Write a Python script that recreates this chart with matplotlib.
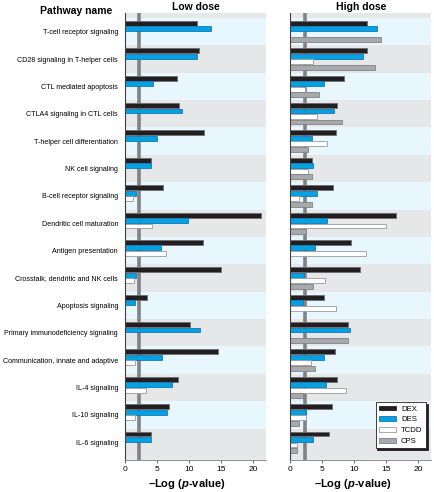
import numpy as np
import matplotlib
matplotlib.use("Agg")
import matplotlib.pyplot as plt
from matplotlib.patches import Patch

plt.rcParams['font.family'] = ['Liberation Sans', 'DejaVu Sans']
plt.rcParams['mathtext.fontset'] = 'custom'
plt.rcParams['mathtext.it'] = 'Liberation Sans:italic:bold'

pathways = ["T-cell receptor signaling", "CD28 signaling in T-helper cells",
            "CTL mediated apoptosis", "CTLA4 signaling in CTL cells",
            "T-helper cell differentiation", "NK cell signaling",
            "B-cell receptor signaling", "Dendritic cell maturation",
            "Antigen presentation", "Crosstalk, dendritic and NK cells",
            "Apoptosis signaling", "Primary immunodeficiency signaling",
            "Communication, innate and adaptive", "IL-4 signaling",
            "IL-10 signaling", "IL-6 signaling"]
nan = np.nan

# low dose
low_dex = [11.2, 11.5, 8.05, 8.4, 12.4, 4.05, 6.0, 21.3, 12.15, 15.0, 3.4, 10.1, 14.45, 8.3, 6.8, 4.0]
low_des = [13.45, 11.25, 4.4, 8.85, 4.95, 4.05, 1.65, 9.8, 5.55, 1.65, 1.55, 11.75, 5.8, 7.35, 6.6, 4.0]
low_tcdd = [nan, nan, nan, nan, nan, nan, 1.25, 4.25, 6.35, 1.4, nan, nan, 1.6, 3.3, 1.6, nan]
low_cps = [nan] * 16

# high dose
high_dex = [11.95, 12.05, 8.45, 7.3, 7.1, 3.3, 6.7, 16.5, 9.55, 10.95, 5.3, 9.0, 6.95, 7.25, 6.5, 6.1]
high_des = [13.6, 11.3, 5.2, 6.8, 3.3, 3.6, 4.1, 5.75, 3.8, 2.15, 2.0, 9.35, 5.2, 5.5, 2.5, 3.6]
high_tcdd = [nan, 3.5, 2.2, 4.1, 5.75, 2.8, 1.4, 15.0, 11.75, 5.45, 7.2, nan, 3.25, 8.7, 2.5, 1.05]
high_cps = [14.2, 13.3, 4.4, 8.05, 2.7, 3.3, 3.3, 2.5, nan, 3.6, nan, 9.0, 3.9, 2.0, 1.3, 0.95]

threshold = 2.2
series = ["DEX", "DES", "TCDD", "CPS"]
faces = ["#231f20", "#00a3e0", "#ffffff", "#a7a9ac"]
edges = ["#6d6e71", "#1b75bc", "#9a9a9a", "#808285"]

fig = plt.figure(figsize=(4.35, 4.92), dpi=100)
ax1 = fig.add_axes([0.2874, 0.065, 0.324, 0.9085])
ax2 = fig.add_axes([0.6678, 0.065, 0.323, 0.9085])

y = np.arange(len(pathways))
offsets = [-0.3, -0.1, 0.1, 0.3]
bh = 0.18

for ax, data, title in [(ax1, [low_dex, low_des, low_tcdd, low_cps], "Low dose"),
                        (ax2, [high_dex, high_des, high_tcdd, high_cps], "High dose")]:
    ax.set_facecolor("#e6e7e8")
    for i in y:
        if i % 2 == 0:
            ax.axhspan(i - 0.5, i + 0.5, color="#e8f6fd", lw=0, zorder=0)
    ax.axvline(threshold, color="#808285", lw=2.6, zorder=1)
    for k in range(4):
        vals = np.array(data[k], dtype=float)
        m = ~np.isnan(vals)
        ax.barh(y[m] + offsets[k], vals[m], height=bh, color=faces[k],
                edgecolor=edges[k], linewidth=0.6, zorder=2)
    ax.set_xlim(0, 22)
    ax.set_ylim(15.5 + 0.15, -0.5 - 0.18)
    ax.set_xticks([0, 5, 10, 15, 20])
    ax.tick_params(axis='x', labelsize=6, length=2.5, width=0.6, color="#555555", pad=2)
    ax.tick_params(axis='y', length=0, pad=5)
    for s in ["top", "right"]:
        ax.spines[s].set_visible(False)
    ax.spines["left"].set_color("#404040")
    ax.spines["left"].set_linewidth(0.8)
    ax.spines["bottom"].set_color("#808080")
    ax.spines["bottom"].set_linewidth(0.6)
    ax.set_title(title, fontsize=7.5, fontweight="bold", pad=2.5)
    ax.set_xlabel("\u2013Log ($\\it{p}$-value)", fontsize=8, fontweight="bold")
    ax.xaxis.set_label_coords(0.44, -0.038)

ax1.set_yticks(y)
ax1.set_yticklabels(pathways, fontsize=5.15)
ax2.set_yticks(y)
ax2.set_yticklabels([])

fig.text(0.175, 0.988, "Pathway name", fontsize=7.5, fontweight="bold", ha="center", va="top")

handles = [Patch(facecolor=faces[k], edgecolor=edges[k] if k != 0 else "#231f20", linewidth=0.6)
           for k in range(4)]
leg = ax2.legend(handles, series, loc="lower right", bbox_to_anchor=(0.965, 0.026),
                 fontsize=5.6, frameon=True, fancybox=False,
                 shadow={'color': '#231f20', 'alpha': 1, 'ox': 1.2, 'oy': -1.2},
                 handlelength=2.2, handleheight=0.6, labelspacing=0.45, borderpad=0.45,
                 handletextpad=0.6, borderaxespad=0)
leg.get_frame().set_edgecolor("#231f20")
leg.get_frame().set_linewidth(0.6)

fig.savefig("out.png", dpi=100)
